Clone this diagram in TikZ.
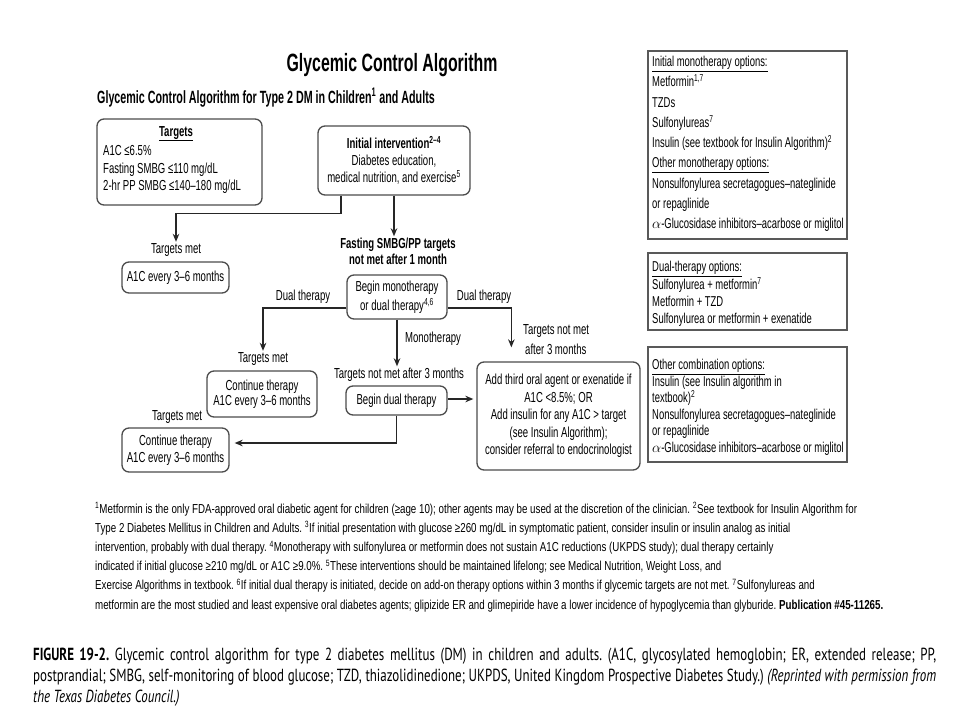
\documentclass[tikz,border=0pt]{standalone}
\usepackage{fontspec}
\setmainfont[FakeStretch=0.66]{Liberation Sans}
\newfontfamily\optfam[FakeStretch=0.66]{Liberation Sans}
\newfontfamily\titlefam[FakeStretch=0.635]{Liberation Sans}
\newfontfamily\subfam[FakeStretch=0.606]{Liberation Sans}
\newfontfamily\fnfam[FakeStretch=0.75]{Liberation Sans}
\newfontfamily\capfont[FakeStretch=0.74]{PT Sans}
\usetikzlibrary{arrows.meta}
\newcommand\dfont[1]{\fontsize{14.5}{#1}\selectfont}
\newcommand\ofont[1]{\optfam\fontsize{14.3}{#1}\selectfont}
\newcommand\fnfont{\fnfam\fontsize{13}{15}\selectfont}
\begin{document}
\frenchspacing
\begin{tikzpicture}[x=1pt,y=-1pt,
  rbox/.style={draw=black!70, line width=1.3pt, rounded corners=7pt, align=center, inner sep=2pt},
  sbox/.style={draw=black!65, line width=1.6pt, inner sep=0pt, minimum width=199pt},
  boxtext/.style={inner sep=0pt, anchor=north west, align=left},
  lbl/.style={inner sep=1pt, anchor=base, font=\dfont{15}},
  arr/.style={draw=black!85, line width=1.5pt, -{Stealth[length=8pt,width=6.5pt]}},
  fn/.style={inner sep=0pt, anchor=base west, font=\fnfont},
  captext/.style={inner sep=0pt, anchor=base west, font=\capfont\fontsize{17.5}{20}\selectfont}]
\useasboundingbox[fill=white] (0,0) rectangle (960,720);

% titles
\node[inner sep=0pt, font=\titlefam\bfseries\fontsize{25}{28}\selectfont] (title) at (392,65) {Glycemic Control Algorithm};
\node[inner sep=0pt, anchor=base west, font=\subfam\bfseries\fontsize{17.7}{20}\selectfont] (subtitle) at (97,103)
  {Glycemic Control Algorithm for Type 2 DM in Children\textsuperscript{1} and Adults};

% targets box
\node[rbox, minimum width=165pt, minimum height=86pt] (targets) at (179.5,162) {};
\node[lbl, font=\bfseries\dfont{15}] (targetshead) at (176,136) {\underline{Targets}};
\node[boxtext, font=\dfont{17.5}] (targetstext) at (103,145.5)
  {A1C ≤6.5\%\\Fasting SMBG ≤110 mg/dL\\2-hr PP SMBG ≤140–180 mg/dL};

% flow boxes
\node[rbox, minimum width=152pt, minimum height=69pt, font=\dfont{17}] (init) at (394,160.5)
  {\textbf{Initial intervention\textsuperscript{2–4}}\\Diabetes education,\\medical nutrition, and exercise\textsuperscript{5}};
\node[rbox, minimum width=107pt, minimum height=31pt, font=\dfont{15}] (a1c) at (175.5,277.5) {A1C every 3–6 months};
\node[rbox, minimum width=100pt, minimum height=44pt, font=\dfont{19}] (begin) at (397,297)
  {Begin monotherapy\\or dual therapy\textsuperscript{4,6}};
\node[rbox, minimum width=110pt, minimum height=46pt, font=\dfont{15}] (cont1) at (262,394)
  {Continue therapy\\A1C every 3–6 months};
\node[rbox, minimum width=101pt, minimum height=29pt, font=\dfont{15}] (begindual) at (396.5,400.5) {Begin dual therapy};
\node[rbox, minimum width=163pt, minimum height=108pt, font=\dfont{17.5}] (addthird) at (558.5,416)
  {Add third oral agent or exenatide if\\A1C <8.5\%; OR\\Add insulin for any A1C > target\\(see Insulin Algorithm);\\consider referral to endocrinologist};
\node[rbox, minimum width=107pt, minimum height=44pt, font=\dfont{17}] (cont2) at (175.5,450)
  {Continue therapy\\A1C every 3–6 months};

% labels
\node[lbl] (tm1) at (176,253) {Targets met};
\node[lbl, font=\bfseries\dfont{15}] (fast1) at (398,248) {Fasting SMBG/PP targets};
\node[lbl, font=\bfseries\dfont{15}] (fast2) at (398,264) {not met after 1 month};
\node[lbl] (dl) at (303,300) {Dual therapy};
\node[lbl] (dr) at (484,300) {Dual therapy};
\node[lbl] (tm2) at (263,362) {Targets met};
\node[lbl, anchor=base west] (tnm) at (522,334) {Targets not met};
\node[lbl, anchor=base west] (a3m) at (524,354) {after 3 months};
\node[lbl] (mono) at (433,342) {Monotherapy};
\node[lbl] (tnm3) at (399,378) {Targets not met after 3 months};
\node[lbl] (tm3) at (177,420) {Targets met};

% connectors
\draw[arr] ([xshift=-53pt]init.south) -- ++(0,18) -| (tm1.north);
\draw[arr] (init.south) -- (init.south |- fast1.north);
\draw[arr] ([yshift=-11pt]begin.west) -| (tm2.north);
\draw[arr] ([yshift=-11pt]begin.east) -| ([xshift=35pt,yshift=14pt]addthird.north west);
\draw[arr] (begin.south) -- (begin.south |- tnm3.north);
\draw[arr, shorten >=3pt] ([yshift=1.5pt]begindual.east) -- ([yshift=1.5pt]begindual.east -| addthird.west);
\draw[arr, shorten >=5pt] (begindual.south) |- ([yshift=7pt]cont2.east);

% option boxes
\node[sbox, minimum height=188pt] (rb1) at (747.5,145) {};
\node[boxtext, font=\ofont{20.25}] (rb1text) at (652,56)
  {\underline{Initial monotherapy options:}\\
   Metformin\textsuperscript{1,7}\\
   TZDs\\
   Sulfonylureas\textsuperscript{7}\\
   Insulin (see textbook for Insulin Algorithm)\textsuperscript{2}\\
   \underline{Other monotherapy options:}\\
   Nonsulfonylurea secretagogues–nateglinide\\
   or repaglinide\\
   $\alpha$-Glucosidase inhibitors–acarbose or miglitol};
\node[sbox, minimum height=77pt] (rb2) at (747.5,291.5) {};
\node[boxtext, font=\ofont{17}] (rb2text) at (652,261)
  {\underline{Dual-therapy options:}\\
   Sulfonylurea + metformin\textsuperscript{7}\\
   Metformin + TZD\\
   Sulfonylurea or metformin + exenatide};
\node[sbox, minimum height=115pt] (rb3) at (747.5,404.5) {};
\node[boxtext, font=\ofont{16.5}] (rb3text) at (652,359)
  {\underline{Other combination options:}\\
   Insulin (see Insulin algorithm in\\
   textbook)\textsuperscript{2}\\
   Nonsulfonylurea secretagogues–nateglinide\\
   or repaglinide\\
   $\alpha$-Glucosidase inhibitors–acarbose or miglitol};

% footnotes
\node[fn] (fn1) at (95,513) {\textsuperscript{1}Metformin is the only FDA-approved oral diabetic agent for children (≥age 10); other agents may be used at the discretion of the clinician. \textsuperscript{2}See textbook for Insulin Algorithm for};
\node[fn] (fn2) at (95,532.2) {Type 2 Diabetes Mellitus in Children and Adults. \textsuperscript{3}If initial presentation with glucose ≥260 mg/dL in symptomatic patient, consider insulin or insulin analog as initial};
\node[fn] (fn3) at (95,551.4) {intervention, probably with dual therapy. \textsuperscript{4}Monotherapy with sulfonylurea or metformin does not sustain A1C reductions (UKPDS study); dual therapy certainly};
\node[fn] (fn4) at (95,570.6) {indicated if initial glucose ≥210 mg/dL or A1C ≥9.0\%. \textsuperscript{5}These interventions should be maintained lifelong; see Medical Nutrition, Weight Loss, and};
\node[fn] (fn5) at (95,589.8) {Exercise Algorithms in textbook. \textsuperscript{6}If initial dual therapy is initiated, decide on add-on therapy options within 3 months if glycemic targets are not met. \textsuperscript{7}Sulfonylureas and};
\node[fn] (fn6) at (95,609) {metformin are the most studied and least expensive oral diabetes agents; glipizide ER and glimepiride have a lower incidence of hypoglycemia than glyburide. \textbf{Publication \#45-11265.}};

% caption
\node[captext] (cap1) at (33,660) {\makebox[903pt][s]{\textbf{FIGURE 19-2.} Glycemic control algorithm for type 2 diabetes mellitus (DM) in children and adults. (A1C, glycosylated hemoglobin; ER, extended release; PP,}};
\node[captext] (cap2) at (33,681) {\makebox[903pt][s]{postprandial; SMBG, self-monitoring of blood glucose; TZD, thiazolidinedione; UKPDS, United Kingdom Prospective Diabetes Study.) \textit{(Reprinted with permission from}}};
\node[captext] (cap3) at (33,702) {\textit{the Texas Diabetes Council.)}};
\end{tikzpicture}
\end{document}
